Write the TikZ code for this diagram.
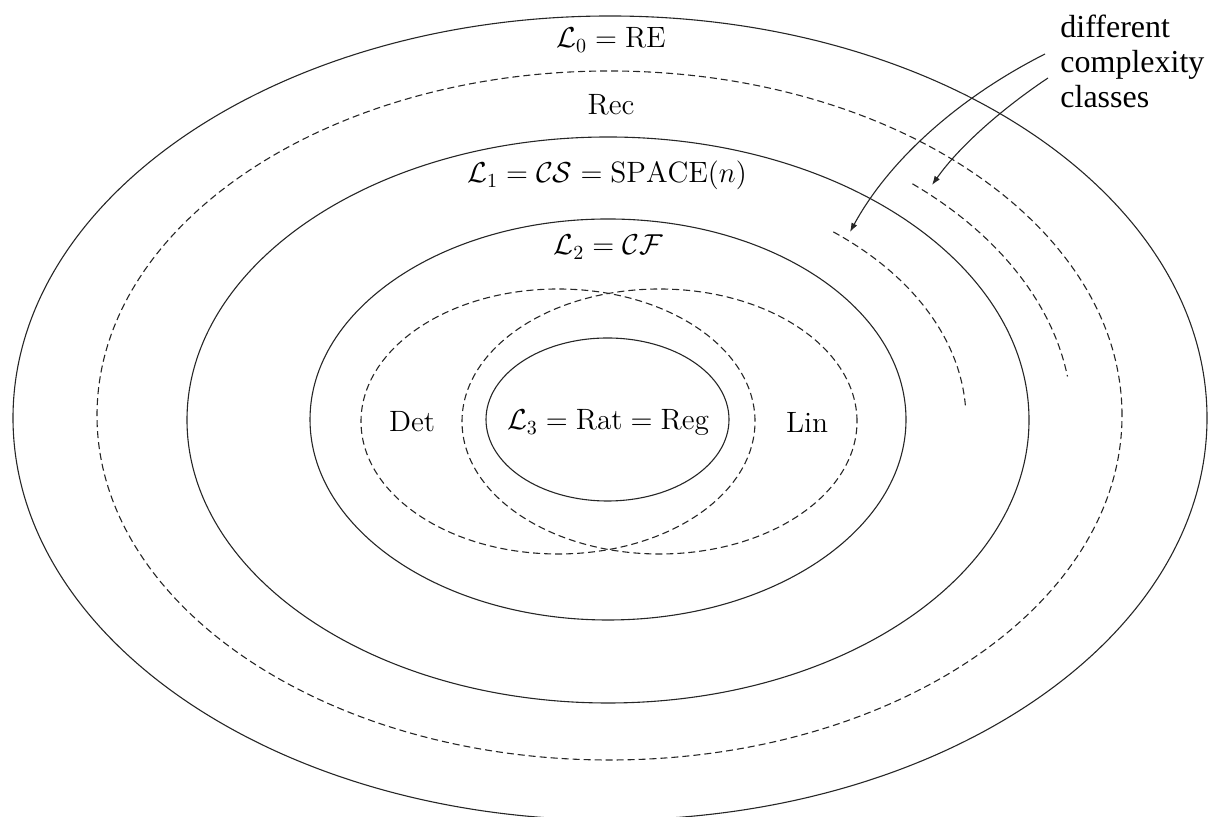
\documentclass[tikz,border=0pt]{standalone}
\usepackage{fontspec}
\usepackage{amsmath}
\newfontfamily\timesf{Liberation Serif}
\usetikzlibrary{arrows.meta}
\tikzset{
  solidline/.style={line width=0.55pt, draw=black!85},
  dashline/.style={line width=0.55pt, draw=black!85, dash pattern=on 3.5pt off 2pt},
  lbl/.style={inner sep=0pt, anchor=base, font=\fontsize{14.7}{17}\selectfont},
  note/.style={inner sep=0pt, anchor=base west, font=\timesf\fontsize{16}{18}\selectfont},
  pointer/.style={line width=0.55pt, draw=black!85, -{Latex[length=4.5pt,width=3.2pt]}}
}
\begin{document}
\begin{tikzpicture}[x=0.5pt,y=0.5pt]
\useasboundingbox (0,0) rectangle (1218,817);
\clip (0,0) rectangle (1218,817);
% ellipses
\draw[solidline] (610,399) ellipse [x radius=298.5pt, y radius=201pt];
\draw[dashline] (609.5,401.5) ellipse [x radius=256.25pt, y radius=172.25pt];
\draw[solidline] (608,397) ellipse [x radius=210.5pt, y radius=141.5pt];
\draw[solidline] (608,397.5) ellipse [x radius=149pt, y radius=100.25pt];
\draw[dashline] (558,395.5) ellipse [x radius=98.5pt, y radius=66.25pt];
\draw[dashline] (659.5,395.5) ellipse [x radius=98.75pt, y radius=66.25pt];
\draw[solidline] (607.5,397.5) ellipse [x radius=60.75pt, y radius=40.75pt];
% partial arcs (different complexity classes)
\coordinate (arcAstart) at (833.3,585.1);
\coordinate (arcBstart) at (912.4,633.2);
\draw[dashline] (arcAstart) arc [start angle=51, end angle=3, x radius=179pt, y radius=121pt];
\draw[dashline] (arcBstart) arc [start angle=49, end angle=8, x radius=232pt, y radius=156.5pt];
% labels
\node[lbl] (l0) at (611,769) {$\mathcal{L}_0=\mathrm{RE}$};
\node[lbl] (rec) at (611,702) {Rec};
\node[lbl] (l1) at (607,634) {$\mathcal{L}_1=\mathcal{CS}=\mathrm{SPACE}(n)$};
\node[lbl] (l2) at (608,562) {$\mathcal{L}_2=\mathcal{CF}$};
\node[lbl] (l3) at (608,387) {$\mathcal{L}_3=\mathrm{Rat}=\mathrm{Reg}$};
\node[lbl] (det) at (412,385) {Det};
\node[lbl] (lin) at (807,384) {Lin};
\node[note] (n1) at (1060,779) {different};
\node[note] (n2) at (1060,744) {complexity};
\node[note] (n3) at (1060,709) {classes};
% pointers
\coordinate (p1s) at (1045,763);
\coordinate (p1e) at (850,585);
\coordinate (p2s) at (1048,739);
\coordinate (p2e) at (932,632);
\draw[pointer] (p1s) .. controls (956,718) and (888,655) .. (p1e);
\draw[pointer] (p2s) .. controls (1006,711) and (961,673) .. (p2e);
\end{tikzpicture}
\end{document}
